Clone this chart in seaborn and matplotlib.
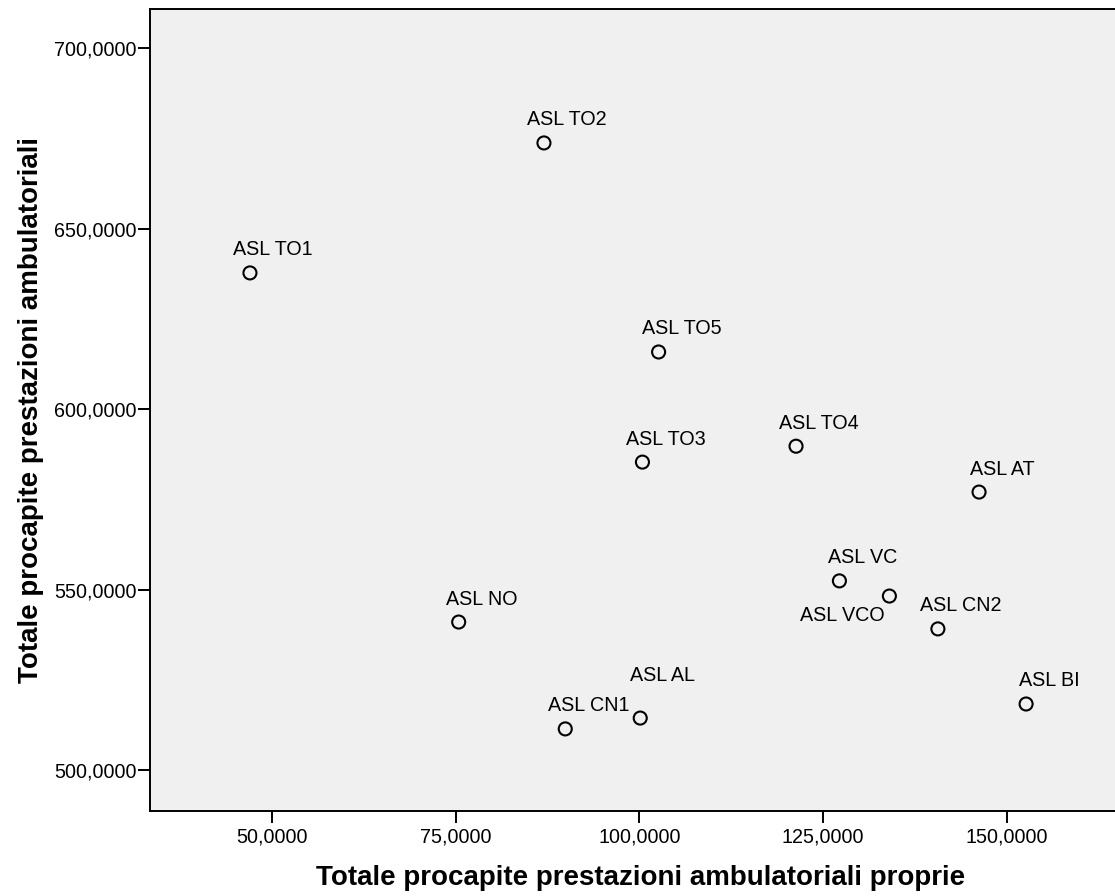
import matplotlib
matplotlib.use("Agg")
import matplotlib.pyplot as plt
from matplotlib.ticker import FuncFormatter
import seaborn as sns
import pandas as pd

# ASL districts: own outpatient services vs. total outpatient services (per capita)
asl = ["ASL TO1", "ASL TO2", "ASL TO5", "ASL TO3", "ASL TO4", "ASL AT",
       "ASL NO", "ASL VC", "ASL VCO", "ASL CN2", "ASL AL", "ASL CN1", "ASL BI"]
proprie = [47.0, 87.0, 102.6, 100.4, 121.3, 146.2,
           75.4, 127.2, 134.0, 140.6, 100.1, 89.9, 152.6]
totale = [637.7, 673.7, 615.8, 585.3, 589.7, 577.0,
          541.0, 552.4, 548.2, 539.1, 514.4, 511.4, 518.3]

x_ticks = [50, 75, 100, 125, 150]
y_ticks = [500, 550, 600, 650, 700]

x_title = "Totale procapite prestazioni ambulatoriali proprie"
y_title = "Totale procapite prestazioni ambulatoriali"

df = pd.DataFrame({"asl": asl, "proprie": proprie, "totale": totale})

sns.set_style("white")
plt.rcParams["font.family"] = ["Liberation Sans", "DejaVu Sans"]
plt.rcParams["text.color"] = "black"
plt.rcParams["axes.labelcolor"] = "black"

fig = plt.figure(figsize=(11.15, 8.96), dpi=100)
ax = fig.add_axes([150 / 1115, 85.5 / 896, 1 - 150 / 1115 + 0.002, 801.5 / 896])
ax.set_facecolor("#F0F0F0")

sns.scatterplot(data=df, x="proprie", y="totale", ax=ax, marker="o", s=88,
                legend=False, zorder=3)
coll = ax.collections[0]
coll.set_facecolor("none")
coll.set_edgecolor("black")
coll.set_linewidth(1.5)

# point labels: mostly above-right, a couple moved to avoid overlaps
offsets = {"ASL AL": (22, 43), "ASL VCO": (-47, -19)}
for name, xv, yv in zip(asl, proprie, totale):
    dx, dy = offsets.get(name, (23, 23))
    ax.annotate(name, (xv, yv), xytext=(dx, dy), textcoords="offset pixels",
                ha="center", va="center", fontsize=14.2, color="black")

ax.set_xlim(33.4, 165.0)
ax.set_ylim(488.8, 710.8)
ax.set_xticks(x_ticks)
ax.set_yticks(y_ticks)
fmt = FuncFormatter(lambda v, p: f"{v:.4f}".replace(".", ","))
ax.xaxis.set_major_formatter(fmt)
ax.yaxis.set_major_formatter(fmt)
ax.tick_params(axis="both", which="major", direction="out", length=8.5,
               width=1.4, color="black", labelsize=14.2, labelcolor="black")
ax.tick_params(axis="y", pad=1)
ax.tick_params(axis="x", pad=4)
ax.xaxis.set_ticks_position("bottom")
ax.yaxis.set_ticks_position("left")

for side in ["left", "bottom", "top"]:
    ax.spines[side].set_visible(True)
    ax.spines[side].set_color("black")
    ax.spines[side].set_linewidth(1.4)
ax.spines["right"].set_visible(False)
ax.grid(False)

ax.set_xlabel(x_title, fontsize=20, fontweight="bold", color="black")
ax.set_ylabel(y_title, fontsize=20, fontweight="bold", color="black")
ax.xaxis.set_label_coords((639 - 150) / 965, -0.068)
ax.yaxis.set_label_coords(-0.110, (810.5 - 410) / 801.5)

fig.savefig("out.png", dpi=100)
